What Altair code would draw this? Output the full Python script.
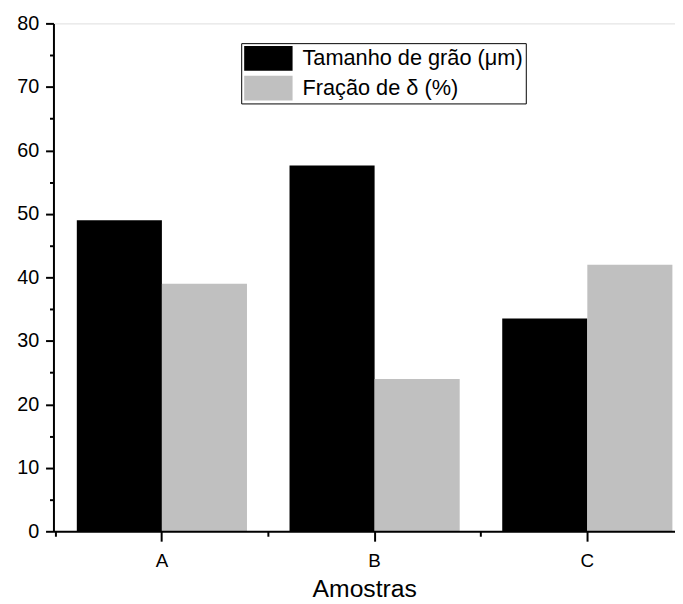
import altair as alt
import pandas as pd

samples = ["A", "B", "C"]
series = ["Tamanho de grão (μm)", "Fração de δ (%)"]
grain_size = [49.0, 57.6, 33.5]
delta_fraction = [39.0, 24.0, 42.0]
colors = ["#000000", "#c0c0c0"]
y_major = [0, 10, 20, 30, 40, 50, 60, 70, 80]
y_minor = [5, 15, 25, 35, 45, 55, 65, 75]

rows = []
for s, g, d in zip(samples, grain_size, delta_fraction):
    rows.append({"Amostra": s, "Serie": series[0], "Valor": g})
    rows.append({"Amostra": s, "Serie": series[1], "Valor": d})
df = pd.DataFrame(rows)

FONT = "Liberation Sans"
xscale = alt.Scale(paddingInner=0.2, paddingOuter=0.061, align=0.9)
yscale = alt.Scale(domain=[0, 80], nice=False)

base = alt.Chart(df)

bars = base.mark_bar().encode(
    x=alt.X("Amostra:N", sort=samples, scale=xscale,
            axis=alt.Axis(orient="bottom", title="Amostras", labelAngle=0,
                          tickSize=10, tickWidth=2, tickColor="black",
                          domainColor="black", domainWidth=2,
                          labelFont=FONT, labelFontSize=19, labelColor="black",
                          labelPadding=11, titleFont=FONT, titleFontSize=25,
                          titleFontWeight="normal", titleColor="black",
                          titlePadding=6, zindex=1)),
    xOffset=alt.XOffset("Serie:N", sort=series,
                        scale=alt.Scale(paddingInner=0, paddingOuter=0)),
    y=alt.Y("Valor:Q", scale=yscale,
            axis=alt.Axis(orient="left", title=None, values=y_major,
                          tickSize=8, tickWidth=2, tickColor="black",
                          domainColor="black", domainWidth=2, grid=False,
                          labelFont=FONT, labelFontSize=20, labelColor="black",
                          labelPadding=7, zindex=1)),
    color=alt.Color("Serie:N", sort=series,
                    scale=alt.Scale(domain=series, range=colors),
                    legend=alt.Legend(orient="none", legendX=190, legendY=20,
                                      title=None, strokeColor="black",
                                      fillColor="white", padding=3,
                                      symbolType="M-2,-1.02H2V1.02H-2Z",
                                      symbolSize=600, symbolStrokeWidth=0,
                                      symbolOpacity=1, symbolOffset=12,
                                      labelFont=FONT, labelFontSize=22,
                                      labelColor="black", labelOffset=22,
                                      labelLimit=0, rowPadding=5)),
)

minor = base.mark_bar(opacity=0).encode(
    x=alt.X("Amostra:N", sort=samples, scale=xscale,
            axis=alt.Axis(orient="bottom", title=None, labels=False,
                          domain=False, tickOffset=-108, tickSize=5,
                          tickWidth=2, tickColor="black", zindex=1)),
    y=alt.Y("Valor:Q",
            axis=alt.Axis(orient="left", title=None, labels=False,
                          domain=False, values=y_minor, tickSize=4,
                          tickWidth=2, tickColor="black", grid=False,
                          zindex=1)),
)

chart = alt.layer(bars, minor).resolve_axis(
    x="independent", y="independent"
).resolve_scale(x="shared", y="shared").properties(
    width=629, height=514,
    autosize=alt.AutoSizeParams(type="none"),
    padding={"left": 46, "top": 12, "right": 0, "bottom": 70},
).configure_view(stroke=None).configure(background="white")

chart.save("out.html", embed_options={"renderer": "svg", "actions": False})
